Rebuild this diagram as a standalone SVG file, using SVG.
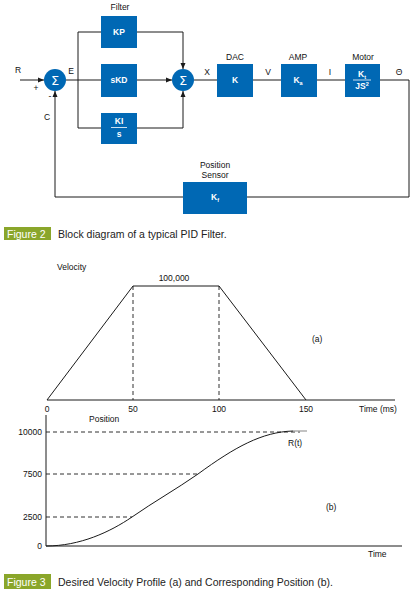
<svg xmlns="http://www.w3.org/2000/svg" width="419" height="592" viewBox="0 0 419 592">
<style>
.bx{fill:#0068b4}
.ln{stroke:#1a1a1a;stroke-width:1;fill:none}
.ds{stroke:#1a1a1a;stroke-width:0.9;fill:none;stroke-dasharray:4,3}
.t{font-family:"Liberation Sans",Arial,sans-serif;font-size:8.5px;fill:#111}
.w{font-family:"Liberation Sans",Arial,sans-serif;font-size:8.5px;fill:#fff;font-weight:bold}
.cap{font-family:"Liberation Sans",Arial,sans-serif;font-size:10.5px;fill:#222}
.capw{font-family:"Liberation Sans",Arial,sans-serif;font-size:10.5px;fill:#fff}
.gr{fill:#8aa62a}
</style>
<defs>
<marker id="ar" markerWidth="6" markerHeight="6" refX="6" refY="3" orient="auto" markerUnits="userSpaceOnUse">
<path d="M0,0.5 L6,3 L0,5.5 Z" fill="#1a1a1a"/>
</marker>
</defs>
<rect width="419" height="592" fill="#fff"/>

<g id="connectors">
<path class="ln" d="M20,80 H44" marker-end="url(#ar)"/>
<path class="ln" d="M55,197 V91" marker-end="url(#ar)"/>
<path class="ln" d="M66,80 H101"/>
<path class="ln" d="M78,32 V128"/>
<path class="ln" d="M78,32 H101"/>
<path class="ln" d="M78,128 H101"/>
<path class="ln" d="M137,32 H183 V69" marker-end="url(#ar)"/>
<path class="ln" d="M137,80 H172" marker-end="url(#ar)"/>
<path class="ln" d="M137,128 H183 V91" marker-end="url(#ar)"/>
<path class="ln" d="M194,80 H217"/>
<path class="ln" d="M253,80 H281"/>
<path class="ln" d="M317,80 H345"/>
<path class="ln" d="M380,80 H409 V197 H247"/>
<path class="ln" d="M183,197 H55"/>
</g>

<g id="sum1"><circle cx="55" cy="80" r="11" class="bx"/><text x="55" y="85" text-anchor="middle" font-family="DejaVu Sans, sans-serif" font-size="13" fill="#fff">Σ</text></g>
<g id="sum2"><circle cx="183" cy="80" r="11" class="bx"/><text x="183" y="85" text-anchor="middle" font-family="DejaVu Sans, sans-serif" font-size="13" fill="#fff">Σ</text></g>

<g id="kp"><rect x="101" y="16" width="36" height="32" class="bx"/><text x="119" y="35" class="w" text-anchor="middle">KP</text></g>
<g id="skd"><rect x="101" y="64" width="36" height="33" class="bx"/><text x="119" y="83" class="w" text-anchor="middle">sKD</text></g>
<g id="kis"><rect x="101" y="113" width="36" height="31" class="bx"/><text x="119" y="124" class="w" text-anchor="middle">KI</text><line x1="111" y1="127.5" x2="127" y2="127.5" stroke="#fff" stroke-width="0.8"/><text x="119" y="137" class="w" text-anchor="middle">s</text></g>
<g id="dac"><rect x="217" y="64" width="36" height="33" class="bx"/><text x="235" y="83" class="w" text-anchor="middle">K</text></g>
<g id="amp"><rect x="281" y="64" width="36" height="33" class="bx"/><text x="298" y="83" class="w" text-anchor="middle">K<tspan font-size="5.5" dy="2">a</tspan></text></g>
<g id="motor"><rect x="345" y="64" width="35" height="33" class="bx"/><text x="362" y="77" class="w" text-anchor="middle">K<tspan font-size="5.5" dy="2">t</tspan></text><line x1="353" y1="80" x2="371" y2="80" stroke="#fff" stroke-width="0.8"/><text x="362" y="89" class="w" text-anchor="middle">JS<tspan font-size="5.5" dy="-3">2</tspan></text></g>
<g id="sensor"><rect x="183" y="182" width="64" height="32" class="bx"/><text x="215" y="200" class="w" text-anchor="middle">K<tspan font-size="5.5" dy="2">f</tspan></text></g>

<g id="labels">
<text x="120" y="10" class="t" text-anchor="middle">Filter</text>
<text x="18" y="73" class="t" text-anchor="middle">R</text>
<text x="36" y="91" class="t" text-anchor="middle">+</text>
<text x="50" y="99" class="t" text-anchor="middle">-</text>
<text x="47" y="120" class="t" text-anchor="middle">C</text>
<text x="71" y="74" class="t" text-anchor="middle">E</text>
<text x="207" y="75" class="t" text-anchor="middle">X</text>
<text x="235" y="60" class="t" text-anchor="middle">DAC</text>
<text x="268" y="75" class="t" text-anchor="middle">V</text>
<text x="298" y="60" class="t" text-anchor="middle">AMP</text>
<text x="330" y="75" class="t" text-anchor="middle">I</text>
<text x="363" y="60" class="t" text-anchor="middle">Motor</text>
<text x="399" y="75" class="t" text-anchor="middle">Θ</text>
<text x="215" y="168" class="t" text-anchor="middle">Position</text>
<text x="215" y="178" class="t" text-anchor="middle">Sensor</text>
</g>

<g id="caption2"><rect x="4" y="227" width="47" height="13" class="gr"/><text x="7" y="237.5" class="capw">Figure 2</text><text x="58" y="237.5" class="cap">Block diagram of a typical PID Filter.</text></g>

<g id="velocity">
<path class="ln" d="M47,400 H395"/>
<path class="ln" d="M47,400 L133,286 H219 L306,400"/>
<path class="ds" d="M133,286 V400 M219,286 V400"/>
<text x="57" y="270" class="t">Velocity</text>
<text x="174" y="281" class="t" text-anchor="middle">100,000</text>
<text x="312" y="342" class="t">(a)</text>
<text x="47" y="412" class="t" text-anchor="middle">0</text>
<text x="133" y="412" class="t" text-anchor="middle">50</text>
<text x="219" y="412" class="t" text-anchor="middle">100</text>
<text x="306" y="412" class="t" text-anchor="middle">150</text>
<text x="359" y="412" class="t">Time (ms)</text>
</g>

<g id="position">
<path class="ln" d="M46,415 V546 H402"/>
<path class="ds" d="M46,432 H300 M46,474 H198 M46,517 H132"/>
<path class="ln" d="M46,546 C80,546 110,532 132,517 C155,501 175,490 198,474 C235,447 262,432 293,431"/>
<path d="M293,431 H307" stroke="#999" stroke-width="1.2" fill="none"/>
<text x="89" y="422" class="t">Position</text>
<text x="42" y="435" class="t" text-anchor="end">10000</text>
<text x="42" y="477" class="t" text-anchor="end">7500</text>
<text x="42" y="520" class="t" text-anchor="end">2500</text>
<text x="42" y="549" class="t" text-anchor="end">0</text>
<text x="288" y="446" class="t">R(t)</text>
<text x="326" y="510" class="t">(b)</text>
<text x="368" y="557" class="t">Time</text>
</g>

<g id="caption3"><rect x="4" y="574" width="47" height="15" class="gr"/><text x="7" y="585.5" class="capw">Figure 3</text><text x="58" y="585.5" class="cap">Desired Velocity Profile (a) and Corresponding Position (b).</text></g>
</svg>
